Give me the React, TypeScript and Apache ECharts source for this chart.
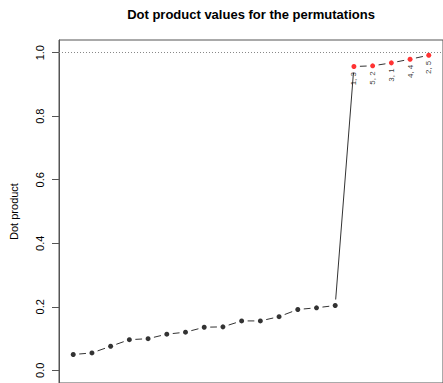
import React, { useEffect, useRef } from "react";
import * as echarts from "echarts";

const blackValues = [0.0497, 0.0547, 0.0756, 0.0964, 0.0995, 0.1138, 0.12, 0.1356, 0.1368, 0.1555, 0.1555, 0.1689, 0.1915, 0.1968, 0.204];
const redValues = [0.9565, 0.9587, 0.968, 0.9795, 0.992];
const redLabels = ["1, 3", "5, 2", "3, 1", "4, 4", "2, 5"];
const yTicks = [0, 0.2, 0.4, 0.6, 0.8, 1.0];
const refLine = 1.0;

const FONT = "'Liberation Sans', Arial, Helvetica, sans-serif";

export default function App() {
  const ref = useRef<HTMLDivElement>(null);
  useEffect(() => {
    if (!ref.current) return;
    const chart = echarts.init(ref.current, undefined, { renderer: "svg" });
    const allValues = [...blackValues, ...redValues];
    const pts = allValues.map((v, i) => [i + 1, v]);
    const segs = pts.slice(0, -1).map((p, i) => [p[0], p[1], pts[i + 1][0], pts[i + 1][1]]);
    const blackData = blackValues.map((v, i) => [i + 1, v]);
    const redData = redValues.map((v, i) => ({ value: [blackValues.length + i + 1, v], name: redLabels[i] }));
    const GAP = 6;

    chart.setOption({
      animation: false,
      backgroundColor: "#ffffff",
      textStyle: { fontFamily: FONT },
      graphic: [
        {
          type: "text",
          x: 251,
          y: 14,
          style: {
            text: "Dot product values for the permutations",
            fontFamily: FONT,
            fontSize: 13,
            fontWeight: "bold",
            fill: "#000",
            textAlign: "center",
            textVerticalAlign: "middle",
          },
        },
      ],
      grid: {
        left: 57,
        top: 40,
        width: 388,
        height: 347,
        show: true,
        borderColor: "#555",
        borderWidth: 1,
        backgroundColor: "transparent",
      },
      xAxis: {
        type: "value",
        min: 0.24,
        max: 20.76,
        show: false,
      },
      yAxis: {
        type: "value",
        min: -0.04,
        max: 1.04,
        name: "Dot product",
        nameLocation: "middle",
        nameGap: 40,
        nameTextStyle: { fontFamily: FONT, fontSize: 11, color: "#000" },
        axisLine: { show: true, lineStyle: { color: "#555", width: 1 } },
        axisTick: { show: true, length: 7, customValues: yTicks, lineStyle: { color: "#555" } },
        axisLabel: {
          show: true,
          customValues: yTicks,
          rotate: 90,
          margin: 14,
          fontFamily: FONT,
          fontSize: 11,
          color: "#000",
          formatter: (v: number) => v.toFixed(1),
        },
        splitLine: { show: false },
      },
      series: [
        {
          type: "custom",
          data: segs,
          encode: { x: [0, 2], y: [1, 3] },
          renderItem: (params: any, api: any) => {
            const a = api.coord([api.value(0), api.value(1)]);
            const b = api.coord([api.value(2), api.value(3)]);
            const dx = b[0] - a[0];
            const dy = b[1] - a[1];
            const len = Math.sqrt(dx * dx + dy * dy);
            if (len <= 2 * GAP) return null;
            const ux = dx / len;
            const uy = dy / len;
            return {
              type: "line",
              shape: {
                x1: a[0] + ux * GAP,
                y1: a[1] + uy * GAP,
                x2: b[0] - ux * GAP,
                y2: b[1] - uy * GAP,
              },
              style: { stroke: "#333", lineWidth: 1 },
            };
          },
          z: 1,
        },
        {
          type: "scatter",
          data: blackData,
          symbol: "circle",
          symbolSize: 5,
          itemStyle: { color: "#000" },
          z: 2,
          markLine: {
            silent: true,
            symbol: "none",
            label: { show: false },
            lineStyle: { color: "#888", type: [1, 2], width: 1 },
            data: [{ yAxis: refLine }],
          },
        },
        {
          type: "scatter",
          data: redData,
          symbol: "circle",
          symbolSize: 5,
          itemStyle: { color: "#ff0000" },
          z: 2,
          label: {
            show: true,
            formatter: (p: any) => p.name,
            position: "bottom",
            distance: 3,
            rotate: 90,
            align: "right",
            verticalAlign: "middle",
            fontFamily: FONT,
            fontSize: 8,
            color: "#000",
          },
        },
      ],
    });
    return () => chart.dispose();
  }, []);
  return <div ref={ref} style={{ position: "fixed", left: 0, top: 0, width: 443, height: 383 }} />;
}
